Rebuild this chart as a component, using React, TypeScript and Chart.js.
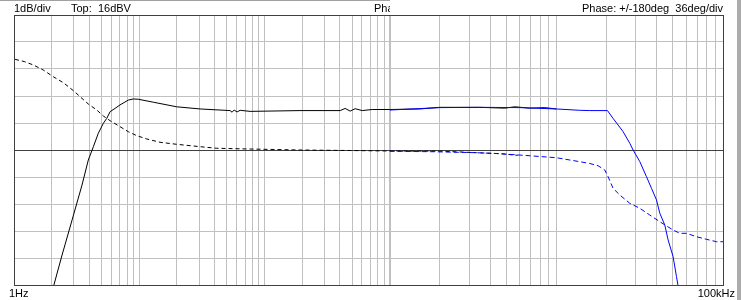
import React, { useEffect, useRef } from "react";
import { Chart, registerables } from "chart.js";

Chart.register(...registerables);

// ---- data (frequency in Hz) ----
const magBlackFreq = [2.01, 2.42, 2.91, 3.49, 3.92, 4.30, 4.71, 5.17, 5.50, 5.85, 6.41, 7.02, 8.18, 8.97, 9.83, 12.96, 19.9, 30.6, 53.1, 55.1, 57.2, 60.4, 63.9, 76.7, 192, 402, 440, 483, 529, 602, 723, 1000, 1514, 1996, 3468, 4899, 5627, 6924, 8519, 10000];
const magBlackDb = [5.74, 7.11, 8.41, 9.70, 10.63, 11.12, 11.62, 11.99, 12.17, 12.42, 12.54, 12.67, 12.85, 12.89, 12.88, 12.77, 12.60, 12.52, 12.46, 12.40, 12.48, 12.41, 12.47, 12.43, 12.46, 12.46, 12.54, 12.44, 12.53, 12.46, 12.50, 12.50, 12.52, 12.58, 12.58, 12.55, 12.60, 12.55, 12.57, 12.52];

const magBlueFreq = [1000, 1996, 3468, 6030, 10000, 13815, 15870, 20260, 21890, 25140, 27580, 28870, 31670, 34740, 37230, 39890, 41740, 44740, 46830, 50180, 52590, 54290];
const magBlueDb = [12.48, 12.57, 12.58, 12.57, 12.52, 12.47, 12.46, 12.46, 12.17, 11.68, 11.25, 11.0, 10.57, 10.01, 9.58, 9.15, 8.66, 8.22, 7.67, 7.05, 6.31, 5.81];

const phBlackFreq = [1.02, 1.22, 1.43, 1.71, 2.06, 2.48, 2.98, 3.37, 3.92, 4.58, 5.17, 5.85, 7.02, 8.18, 9.55, 11.48, 14.66, 19.9, 30.6, 41.6, 76.7, 192, 483, 1000, 2000, 3314, 4575, 5866];
const phBlackDeg = [120.9, 117.7, 113.3, 106.7, 97.7, 89.7, 79.1, 71.1, 61.3, 53.3, 45.3, 39.1, 31.1, 24.4, 19.1, 14.7, 10.3, 7.6, 4.4, 2.3, 1.3, 0, -0.7, -1.3, -1.5, -3.6, -4.9, -7.1];

const phBlueFreq = [1000, 1819, 3314, 4575, 7246, 10000, 13815, 15870, 17800, 19520, 20430, 21890, 24020, 27580, 31670, 36360, 41740, 45810, 50180, 55050, 60390, 69330, 79620, 91420, 100000];
const phBlueDeg = [-1.7, -2.3, -3.6, -4.9, -8.0, -10.3, -15.6, -18.0, -21.0, -26.7, -35.6, -51.1, -60.0, -71.1, -77.7, -86.7, -95.6, -101.3, -106.7, -111.1, -111.1, -115.6, -119.1, -122.3, -122.3];

const gridMantissas = [1, 2, 3, 4, 5, 6, 7, 8, 9];
const gridDecades = [1, 10, 100, 1000, 10000];
const gridFreqs = [...gridDecades.flatMap((d) => gridMantissas.map((m) => m * d)), 100000];

const magMin = 6;
const magMax = 16;
const phaseMin = -180;
const phaseMax = 180;

const labelMagDiv = "1dB/div";
const labelTop = "Top:  16dBV";
const labelPhase = "Phase: +/-180deg  36deg/div";
const labelStart = "1Hz";
const labelEnd = "100kHz";

// split log axis: 1Hz..1kHz on the left part, 1kHz..100kHz on the right part
const SPLIT = 0.53;
function splitLog(f: number): number {
  const lg = Math.log10(f);
  return lg <= 3 ? (lg / 3) * SPLIT : SPLIT + ((lg - 3) / 2) * (1 - SPLIT);
}

const toPts = (fs: number[], vs: number[]) => fs.map((f, i) => ({ x: splitLog(f), y: vs[i] }));

const FONT = "11px 'Liberation Sans', Arial, sans-serif";

const chromePlugin = {
  id: "chrome",
  afterDraw(chart: any) {
    const ctx = chart.ctx as CanvasRenderingContext2D;
    const area = chart.chartArea;
    ctx.save();
    ctx.fillStyle = "#a0a0a0";
    ctx.fillRect(0, 0, 390, 1);
    ctx.fillStyle = "#acacac";
    ctx.fillRect(737, 0, 4, chart.height);
    ctx.fillStyle = "#000";
    ctx.font = FONT;
    ctx.textBaseline = "alphabetic";
    ctx.textAlign = "left";
    ctx.fillText(labelMagDiv, area.left, 12);
    ctx.fillText(labelTop, 71, 12);
    ctx.fillText(labelStart, 9, 297);
    ctx.textAlign = "right";
    ctx.fillText(labelPhase, area.right, 12);
    ctx.fillText(labelEnd, 735, 297);
    ctx.save();
    ctx.beginPath();
    ctx.rect(0, 0, 390, area.top);
    ctx.clip();
    ctx.textAlign = "left";
    ctx.fillText(labelPhase, 374, 12);
    ctx.restore();
    ctx.restore();
  },
};

export default function App() {
  const ref = useRef<HTMLCanvasElement | null>(null);
  useEffect(() => {
    if (!ref.current) return;
    const chart = new Chart(ref.current, {
      type: "line",
      data: {
        datasets: [
          { data: toPts(magBlueFreq, magBlueDb), borderColor: "#0000ff", borderWidth: 1, pointRadius: 0, yAxisID: "y" },
          { data: toPts(phBlueFreq, phBlueDeg), borderColor: "#0000ff", borderWidth: 1, pointRadius: 0, borderDash: [5, 3], yAxisID: "y2" },
          { data: toPts(magBlackFreq, magBlackDb), borderColor: "#000000", borderWidth: 1, pointRadius: 0, yAxisID: "y" },
          { data: toPts(phBlackFreq, phBlackDeg), borderColor: "#000000", borderWidth: 1, pointRadius: 0, borderDash: [4, 3], yAxisID: "y2" },
        ],
      },
      options: {
        animation: false,
        responsive: false,
        events: [],
        layout: { padding: { left: 14, top: 15, right: 18, bottom: 15 } },
        plugins: { legend: { display: false }, tooltip: { enabled: false } },
        scales: {
          x: {
            type: "linear",
            min: 0,
            max: 1,
            afterBuildTicks: (scale: any) => {
              scale.ticks = gridFreqs.map((f) => ({ value: splitLog(f) }));
            },
            ticks: { display: false },
            grid: {
              drawTicks: false,
              color: (c: any) => {
                const f = gridFreqs[c.index];
                return f === 1 || f === 100000 ? "#404040" : "#c0c0c0";
              },
              lineWidth: (c: any) => (gridFreqs[c.index] === 1000 ? 2 : 1),
            },
            border: { display: true, color: "#404040", width: 1 },
          },
          y: {
            type: "linear",
            min: magMin,
            max: magMax,
            ticks: { display: false, stepSize: 1 },
            grid: {
              drawTicks: false,
              color: (c: any) => (c.tick && (c.tick.value === 11 || c.tick.value === 16) ? "#404040" : "#c0c0c0"),
            },
            border: { display: true, color: "#404040", width: 1 },
          },
          y2: {
            type: "linear",
            display: false,
            min: phaseMin,
            max: phaseMax,
          },
        },
      },
      plugins: [chromePlugin],
    });
    return () => chart.destroy();
  }, []);
  return (
    <div style={{ position: "fixed", left: 0, top: 0, width: 741, height: 300, background: "#fff" }}>
      <canvas ref={ref} width={741} height={300} style={{ display: "block", width: 741, height: 300 }} />
    </div>
  );
}
